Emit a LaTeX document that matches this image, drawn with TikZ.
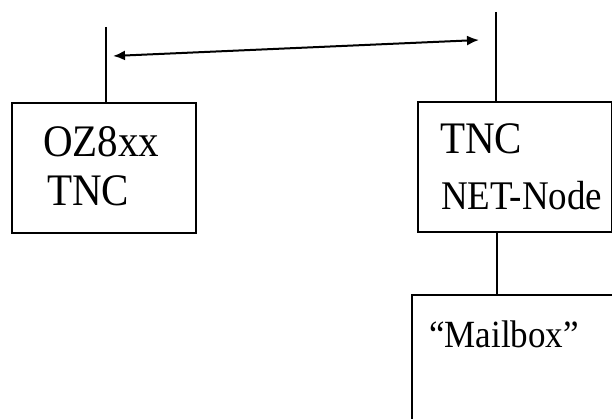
\documentclass[tikz,border=0pt]{standalone}
\usepackage{fontspec}
\setmainfont{Liberation Serif}
\usetikzlibrary{arrows.meta}
\begin{document}
\begin{tikzpicture}[x=1pt,y=-1pt,
  box/.style={draw, line width=2pt, inner sep=0pt, anchor=north west},
  lbl/.style={anchor=base west, inner sep=0pt, yscale=1.1, font=\fontsize{41}{41}\selectfont},
  wire/.style={line width=2pt},
  link/.style={line width=2pt, {Latex[length=12pt,width=10pt]}-{Latex[length=12pt,width=10pt]}}]
\useasboundingbox (0,0) rectangle (612,419);
\clip (0,0) rectangle (612,419);
% boxes
\node[box, minimum width=184pt, minimum height=130pt] (oz) at (11,102) {};
\node[box, minimum width=194pt, minimum height=130pt] (net) at (417,101) {};
\node[box, minimum width=250pt, minimum height=200pt] (mail) at (411,294) {};
% labels
\node[lbl] (t1) at (43,157) {OZ8xx};
\node[lbl] (t2) at (47,206) {TNC};
\node[lbl] (t3) at (440,154) {TNC};
\node[lbl, font=\fontsize{37}{37}\selectfont] (t4) at (441,210) {NET-Node};
\node[lbl, font=\fontsize{35}{35}\selectfont] (t5) at (429,347) {``Mailbox''};
% antennas and wires
\coordinate (ozTop) at (106,27);
\coordinate (netTop) at (496,12);
\coordinate (nm) at (497,260);
\draw[wire] (ozTop) -- (ozTop |- oz.north);
\draw[wire] (netTop) -- (netTop |- net.north);
\draw[wire] (net.south -| nm) -- (mail.north -| nm);
% radio link
\coordinate (aL) at (113,56);
\coordinate (aR) at (479,40);
\draw[link] (aL) -- (aR);
\end{tikzpicture}
\end{document}
